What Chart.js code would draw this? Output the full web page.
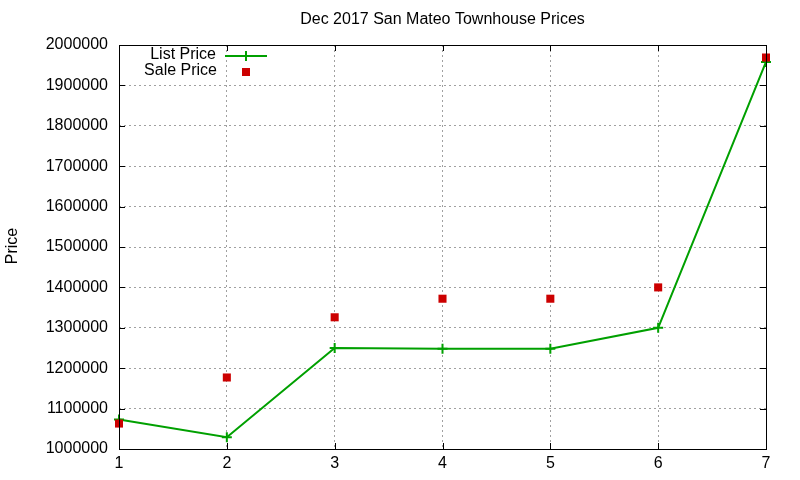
<!DOCTYPE html>
<html>
<head>
<meta charset="utf-8">
<script src="https://cdn.jsdelivr.net/npm/chart.js@4"></script>
<style>
html,body{margin:0;padding:0;background:#fff;}
#wrap{width:800px;height:480px;position:relative;}
</style>
</head>
<body>
<div id="wrap"><canvas id="c" width="800" height="480"></canvas></div>
<script>
const xValues = [1, 2, 3, 4, 5, 6, 7];
const listPrices = [1073000, 1029000, 1250000, 1248000, 1248000, 1300000, 1958000];
const salePrices = [1063000, 1177000, 1326000, 1372000, 1372000, 1400000, 1969000];
const titleText = 'Dec 2017 San Mateo Townhouse Prices';
const yLabel = 'Price';
const listLabel = 'List Price';
const saleLabel = 'Sale Price';

const FONT = '"Liberation Sans", Arial, sans-serif';
const GREEN = '#00a000';
const RED = '#cc0000';

const frame = {
  id: 'frame',
  afterDraw(chart) {
    const {ctx, chartArea: a, scales} = chart;
    ctx.save();
    ctx.strokeStyle = '#000';
    ctx.lineWidth = 1;
    ctx.strokeRect(Math.round(a.left) + 0.5, Math.round(a.top) + 0.5, Math.round(a.right - a.left), Math.round(a.bottom - a.top));
    // inward ticks
    ctx.beginPath();
    scales.y.ticks.forEach(t => {
      const y = Math.round(scales.y.getPixelForValue(t.value)) + 0.5;
      ctx.moveTo(a.left, y); ctx.lineTo(a.left + 6, y);
      ctx.moveTo(a.right, y); ctx.lineTo(a.right - 6, y);
    });
    scales.x.ticks.forEach(t => {
      const x = Math.round(scales.x.getPixelForValue(t.value)) + 0.5;
      ctx.moveTo(x, a.bottom); ctx.lineTo(x, a.bottom - 6);
      ctx.moveTo(x, a.top); ctx.lineTo(x, a.top + 6);
    });
    ctx.stroke();
    // title
    ctx.fillStyle = '#000';
    ctx.font = '16px ' + FONT;
    ctx.textAlign = 'center';
    ctx.textBaseline = 'middle';
    ctx.fillText(titleText, (a.left + a.right) / 2, 20);
    // y label
    ctx.save();
    ctx.translate(17, 246);
    ctx.rotate(-Math.PI / 2);
    ctx.textBaseline = 'alphabetic';
    ctx.fillText(yLabel, 0, 0);
    ctx.restore();
    // legend
    ctx.textAlign = 'right';
    ctx.textBaseline = 'middle';
    ctx.fillText(listLabel, 216, 55);
    ctx.fillText(saleLabel, 217, 71);
    ctx.strokeStyle = GREEN;
    ctx.lineWidth = 2;
    ctx.beginPath();
    ctx.moveTo(225, 56); ctx.lineTo(267, 56);
    ctx.moveTo(246, 51); ctx.lineTo(246, 61);
    ctx.stroke();
    ctx.fillStyle = RED;
    ctx.fillRect(242, 68, 8, 8);
    ctx.restore();
  }
};

new Chart(document.getElementById('c'), {
  type: 'line',
  plugins: [frame],
  data: {
    datasets: [
      {
        label: listLabel,
        data: xValues.map((x, i) => ({x, y: listPrices[i]})),
        borderColor: GREEN,
        backgroundColor: GREEN,
        borderWidth: 2,
        pointStyle: 'cross',
        pointRadius: 5,
        pointBorderWidth: 2,
        pointHoverRadius: 5,
        tension: 0,
        fill: false,
        clip: false,
        order: 2
      },
      {
        label: saleLabel,
        data: xValues.map((x, i) => ({x, y: salePrices[i]})),
        showLine: false,
        borderColor: RED,
        backgroundColor: RED,
        pointStyle: 'rect',
        pointRadius: 5.7,
        pointBorderWidth: 0,
        pointHoverRadius: 5.7,
        clip: false,
        order: 1
      }
    ]
  },
  options: {
    responsive: false,
    animation: false,
    events: [],
    layout: {padding: {left: 0, right: 34, top: 45, bottom: 0}},
    plugins: {legend: {display: false}, tooltip: {enabled: false}, title: {display: false}},
    scales: {
      x: {
        type: 'linear', min: 1, max: 7,
        ticks: {stepSize: 1, color: '#000', font: {family: FONT, size: 16}, padding: 5},
        grid: {color: '#a0a0a0', drawTicks: false, lineWidth: 1},
        border: {display: false, dash: [2, 3]},
        afterFit(s) { s.height = 31; }
      },
      y: {
        min: 1000000, max: 2000000,
        ticks: {stepSize: 100000, color: '#000', font: {family: FONT, size: 16}, padding: 11,
                callback: v => String(v)},
        grid: {color: '#a0a0a0', drawTicks: false, lineWidth: 1},
        border: {display: false, dash: [2, 3]},
        afterFit(s) { s.width = 119; }
      }
    }
  }
});
</script>
</body>
</html>
